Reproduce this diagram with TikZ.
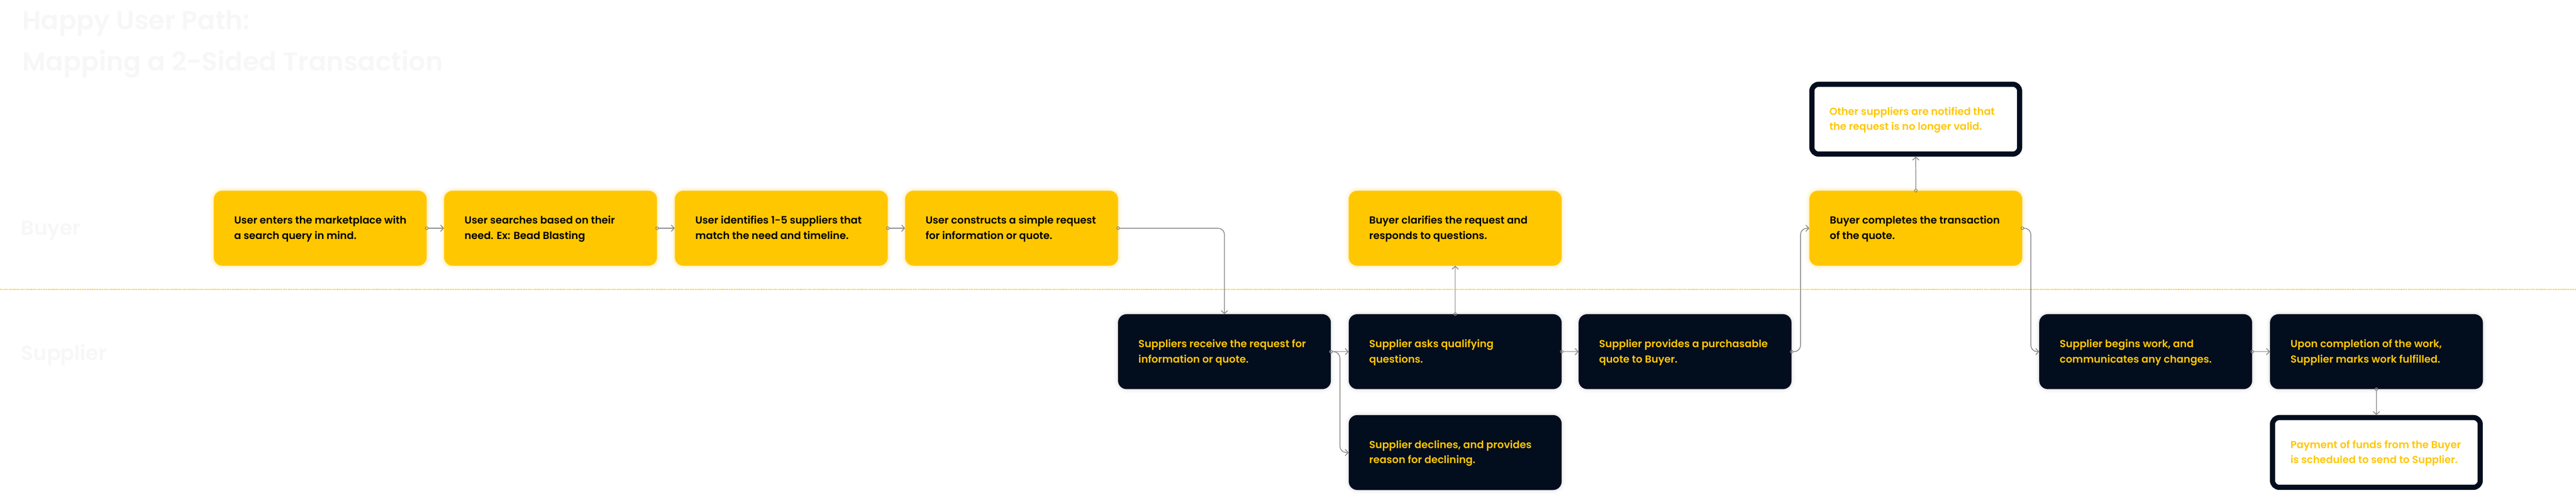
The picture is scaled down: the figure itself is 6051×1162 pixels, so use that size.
\documentclass[tikz,border=0pt]{standalone}
\usepackage{fontspec}
\setmainfont{Poppins}[BoldFont={Poppins SemiBold}]
\usetikzlibrary{arrows.meta,calc}
\definecolor{byel}{HTML}{FFC700}
\definecolor{dnavy}{HTML}{020D1E}
\definecolor{cgray}{HTML}{858585}
\definecolor{faint}{HTML}{F7F7F7}
\definecolor{shgray}{HTML}{9AA0A8}
\begin{document}
\begin{tikzpicture}[x=1pt,y=-1pt,
  box/.style={rectangle, rounded corners=20pt, minimum width=500pt, minimum height=176pt, inner sep=0pt, anchor=north west},
  glowy/.style={preaction={draw=byel, line width=18pt, draw opacity=0.05},
                preaction={draw=byel, line width=10pt, draw opacity=0.08},
                preaction={draw=byel, line width=4pt, draw opacity=0.12}},
  glowd/.style={preaction={draw=shgray, line width=18pt, draw opacity=0.04},
                preaction={draw=shgray, line width=10pt, draw opacity=0.07},
                preaction={draw=shgray, line width=4pt, draw opacity=0.12}},
  ybox/.style={box, fill=byel, glowy},
  dbox/.style={box, fill=dnavy, glowd},
  wbox/.style={box, fill=white, draw=dnavy, line width=12pt, rounded corners=16pt, minimum width=488pt, minimum height=164pt},
  txt/.style={anchor=base west, align=left, inner sep=0pt, font=\bfseries\fontsize{24}{36}\selectfont},
  btxt/.style={txt, text=black},
  ytxt/.style={txt, text=byel},
  conn/.style={draw=cgray, line width=1.8pt, rounded corners=15pt, shorten <=-4pt,
     arrows={Circle[open,length=8pt,width=8pt,line width=1.5pt]-Straight Barb[length=7pt,width=15pt,line width=1.8pt]}},
  ttl/.style={anchor=base west, inner sep=0pt, text=faint, font=\bfseries\fontsize{61.5}{70}\selectfont},
  lane/.style={anchor=base west, inner sep=0pt, text=faint, font=\bfseries\fontsize{48}{56}\selectfont}
]
\useasboundingbox (0,0) rectangle (6051,1162);
\fill[white] (0,0) rectangle (6051,1162);

% titles and lane labels
\node[ttl] (t1) at (52,70) {Happy User Path:};
\node[ttl] (t2) at (52,166) {Mapping a 2-Sided Transaction};
\node[lane] (lb) at (49,553) {Buyer};
\node[lane] (ls) at (49,847) {Supplier};

% lane divider
\draw[byel, line width=3pt, dash pattern=on 2.5pt off 1.5pt] (0,680) -- (6051,680);

% buyer row
\node[ybox] (b1) at (502,448) {};
\node[ybox] (b2) at (1043,448) {};
\node[ybox] (b3) at (1585,448) {};
\node[ybox] (b4) at (2126,448) {};
\node[ybox] (b5) at (3168,448) {};
\node[ybox] (b6) at (4250,448) {};
\node[wbox] (ot) at (4250,192) {};

% supplier row
\node[dbox] (s1) at (2626,738) {};
\node[dbox] (s2) at (3168,738) {};
\node[dbox] (s3) at (3168,975) {};
\node[dbox] (s4) at (3708,738) {};
\node[dbox] (s5) at (4790,738) {};
\node[dbox] (s6) at (5332,738) {};
\node[wbox] (pay) at (5332,975) {};

% texts (anchored at the baseline of the second line)
\node[btxt] at ($(b1.north west)+(48,114)$) {User enters the marketplace with\\a search query in mind.};
\node[btxt] at ($(b2.north west)+(48,114)$) {User searches based on their\\need. Ex: Bead Blasting};
\node[btxt] at ($(b3.north west)+(48,114)$) {User identifies 1-5 suppliers that\\match the need and timeline.};
\node[btxt] at ($(b4.north west)+(48,114)$) {User constructs a simple request\\for information or quote.};
\node[btxt] at ($(b5.north west)+(48,114)$) {Buyer clarifies the request and\\responds to questions.};
\node[btxt] at ($(b6.north west)+(48,114)$) {Buyer completes the transaction\\of the quote.};
\node[ytxt] at ($(ot.north west)+(47,114)$) {Other suppliers are notified that\\the request is no longer valid.};
\node[ytxt] at ($(s1.north west)+(48,114)$) {Suppliers receive the request for\\information or quote.};
\node[ytxt] at ($(s2.north west)+(48,114)$) {Supplier asks qualifying\\questions.};
\node[ytxt] at ($(s3.north west)+(48,114)$) {Supplier declines, and provides\\reason for declining.};
\node[ytxt] at ($(s4.north west)+(48,114)$) {Supplier provides a purchasable\\quote to Buyer.};
\node[ytxt] at ($(s5.north west)+(48,114)$) {Supplier begins work, and\\communicates any changes.};
\node[ytxt] at ($(s6.north west)+(48,114)$) {Upon completion of the work,\\Supplier marks work fulfilled.};
\node[ytxt] at ($(pay.north west)+(48,114)$) {Payment of funds from the Buyer\\is scheduled to send to Supplier.};

% connectors
\draw[conn] (b1.east) -- (b2.west);
\draw[conn] (b2.east) -- (b3.west);
\draw[conn] (b3.east) -- (b4.west);
\draw[conn] (b4.east) -| (s1.north);
\draw[conn] (s1.east) -- (s2.west);
\draw[conn] (s1.east) -- ++(21,0) |- (s3.west);
\draw[conn] (s2.north) -- (b5.south);
\draw[conn] (s2.east) -- (s4.west);
\draw[conn] (s4.east) -- ++(21,0) |- (b6.west);
\draw[conn] (b6.north) -- (ot.south);
\draw[conn] (b6.east) -- ++(20,0) |- (s5.west);
\draw[conn] (s5.east) -- (s6.west);
\draw[conn] (s6.south) -- (pay.north);
\end{tikzpicture}
\end{document}
